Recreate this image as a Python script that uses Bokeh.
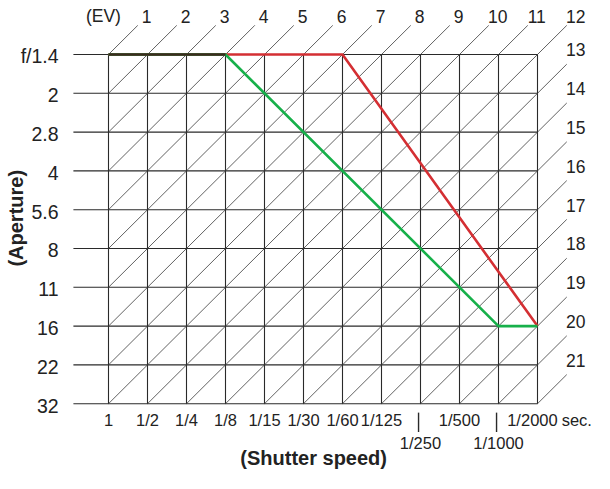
import math
from bokeh.plotting import figure
from bokeh.models import Range1d
from bokeh.core.properties import value
from bokeh.embed import file_html
from bokeh.resources import INLINE

# ---- data ----
shutter_labels = ["1", "1/2", "1/4", "1/8", "1/15", "1/30", "1/60", "1/125",
                  "1/250", "1/500", "1/1000", "1/2000"]
lower_row_labels = ["1/250", "1/1000"]
aperture_labels = ["f/1.4", "2", "2.8", "4", "5.6", "8", "11", "16", "22", "32"]
ev_values = list(range(1, 22))

red_shutter = ["1", "1/60", "1/2000"]
red_aperture = ["f/1.4", "f/1.4", "16"]
green_shutter = ["1", "1/8", "1/1000", "1/2000"]
green_aperture = ["f/1.4", "f/1.4", "16", "16"]
shared_shutter = ["1", "1/8"]
shared_aperture = ["f/1.4", "f/1.4"]

# Tv / Av numbers derived from position in the lists
tv = {s: i for i, s in enumerate(shutter_labels)}
av = {a: i + 1 for i, a in enumerate(aperture_labels)}
tv_max = len(shutter_labels) - 1
av_min, av_max = 1, len(aperture_labels)

# ---- layout ----
W, H = 594, 473
OX, OY = 108, 54       # canvas position of (Tv 0, f/1.4)
SX, SY = 39.0, 38.8    # pixels per stop
x0 = -OX / SX
y_top = av_min - OY / SY

p = figure(width=W, height=H, output_backend="svg", toolbar_location=None,
           x_axis_type=None, y_axis_type=None, min_border=0,
           x_range=Range1d(x0, x0 + W / SX),
           y_range=Range1d(y_top + H / SY, y_top))
p.outline_line_color = None
p.grid.visible = False
p.background_fill_color = "white"
p.border_fill_color = "white"

FONT = value("Liberation Sans")
TXT = "#222222"
GRID = "#2a2a2a"

# grid
p.segment(x0=[tv[s] for s in shutter_labels], y0=[av_min] * len(shutter_labels),
          x1=[tv[s] for s in shutter_labels], y1=[av_max] * len(shutter_labels),
          line_color=GRID, line_width=1.1)
p.segment(x0=[-0.9] * len(aperture_labels), y0=[av[a] for a in aperture_labels],
          x1=[tv_max] * len(aperture_labels), y1=[av[a] for a in aperture_labels],
          line_color=GRID, line_width=1.1)

# EV diagonals
EXT = 0.75
dx0, dy0, dx1, dy1 = [], [], [], []
top_lab_x, top_lab_y, top_lab = [], [], []
right_lab_x, right_lab_y, right_lab = [], [], []
for k in ev_values:
    t_lo = max(0, k - av_max)
    t_hi = min(tv_max, k - av_min)
    dx0.append(t_lo); dy0.append(k - t_lo)
    dx1.append(t_hi + EXT); dy1.append(k - t_hi - EXT)
    if k - t_hi == av_min:
        top_lab_x.append(t_hi + 0.98); top_lab_y.append(k - t_hi - 0.98); top_lab.append(str(k))
    else:
        right_lab_x.append(t_hi + 0.98); right_lab_y.append(k - t_hi - 1.12); right_lab.append(str(k))
p.segment(x0=dx0, y0=dy0, x1=dx1, y1=dy1, line_color="#3a3a3a", line_width=0.8)

# programs
p.line([tv[s] for s in red_shutter], [av[a] for a in red_aperture],
       line_color="#d42f33", line_width=2.6)
p.line([tv[s] for s in green_shutter], [av[a] for a in green_aperture],
       line_color="#17b04a", line_width=2.6)
p.line([tv[s] for s in shared_shutter], [av[a] for a in shared_aperture],
       line_color="#3b2a1e", line_width=2.6)

# EV labels
p.text(x=top_lab_x, y=top_lab_y, text=top_lab, text_font=FONT, text_font_size="17.5px",
       text_align="center", text_baseline="middle", text_color=TXT)
p.text(x=right_lab_x, y=right_lab_y, text=right_lab, text_font=FONT, text_font_size="17.5px",
       text_align="center", text_baseline="middle", text_color=TXT)
p.text(x=[-0.13], y=[av_min - 0.98], text=["(EV)"], text_font=FONT, text_font_size="17.5px",
       text_align="center", text_baseline="middle", text_color=TXT)

# aperture labels
p.text(x=[-1.28] * len(aperture_labels), y=[av[a] + 0.05 for a in aperture_labels],
       text=aperture_labels, text_font=FONT, text_font_size="19.5px",
       text_align="right", text_baseline="middle", text_color=TXT)

# shutter labels
up = [s for s in shutter_labels if s not in lower_row_labels]
up_x = [tv[s] - (0.13 if s == shutter_labels[-1] else 0) for s in up]
p.text(x=up_x, y=[av_max + 0.43] * len(up), text=up, text_font=FONT, text_font_size="16.5px",
       text_align="center", text_baseline="middle", text_color=TXT)
p.text(x=[tv[s] for s in lower_row_labels], y=[av_max + 1.01] * len(lower_row_labels),
       text=lower_row_labels, text_font=FONT, text_font_size="16.5px",
       text_align="center", text_baseline="middle", text_color=TXT)
p.segment(x0=[tv[s] - 0.05 for s in lower_row_labels], y0=[av_max + 0.23] * 2,
          x1=[tv[s] - 0.05 for s in lower_row_labels], y1=[av_max + 0.73] * 2,
          line_color=GRID, line_width=1.4)
p.text(x=[tv_max + 0.62], y=[av_max + 0.43], text=["sec."], text_font=FONT, text_font_size="16.5px",
       text_align="left", text_baseline="middle", text_color=TXT)

# axis titles
p.text(x=[5.26], y=[av_max + 1.4], text=["(Shutter speed)"], text_font=FONT,
       text_font_size="20px", text_font_style="bold", text_align="center",
       text_baseline="middle", text_color=TXT)
p.text(x=[-2.36], y=[5.22], text=["(Aperture)"], text_font=FONT,
       text_font_size="20px", text_font_style="bold", text_align="center",
       text_baseline="middle", text_color=TXT, angle=math.pi / 2)

open("out.html", "w").write(file_html(p, INLINE))
